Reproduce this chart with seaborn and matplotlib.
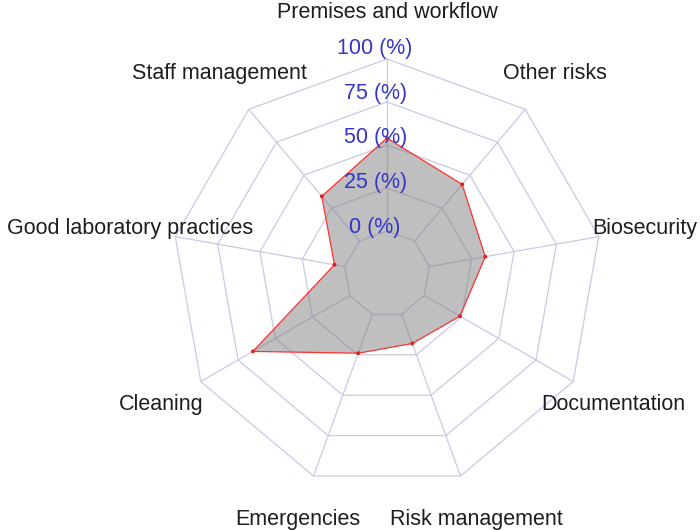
import numpy as np
import pandas as pd
import matplotlib
matplotlib.use("Agg")
import matplotlib.pyplot as plt
import seaborn as sns

# ---- data (clockwise from top) ----
categories = ["Premises and workflow", "Other risks", "Biosecurity", "Documentation",
              "Risk management", "Emergencies", "Cleaning",
              "Good laboratory practices", "Staff management"]
values = [54, 43, 33, 24, 18, 24, 65, 6, 34]
axis_ticks = [0, 25, 50, 75, 100]
axis_tick_labels = ["0 (%)", "25 (%)", "50 (%)", "75 (%)", "100 (%)"]

sns.set_theme(style="white")
plt.rcParams["font.family"] = ["Liberation Sans", "DejaVu Sans"]

W, H = 700, 530
fig = plt.figure(figsize=(W / 100, H / 100), dpi=100)
ax = fig.add_axes([0, 0, 1, 1])
cx, cy, scale = 387, 274, 215  # pixel center and pixels per unit radius
ax.set_xlim(-cx / scale, (W - cx) / scale)
ax.set_ylim(-(H - cy) / scale, cy / scale)
ax.set_aspect("equal")
ax.axis("off")

n = len(categories)
angles = np.pi / 2 - 2 * np.pi * np.arange(n) / n
seg = len(axis_ticks) - 1
vmin, vmax = axis_ticks[0], axis_ticks[-1]

def radius(v):
    return (1 + seg * (np.asarray(v, float) - vmin) / (vmax - vmin)) / (seg + 1)

grid_col = "#c9c9e6"
# rings
for t in axis_ticks:
    r = radius(t)
    xs = np.append(r * np.cos(angles), r * np.cos(angles[0]))
    ys = np.append(r * np.sin(angles), r * np.sin(angles[0]))
    ax.plot(xs, ys, color=grid_col, lw=0.9, zorder=1)
# spokes
r0, r1 = radius(vmin), radius(vmax)
for a in angles:
    ax.plot([r0 * np.cos(a), r1 * np.cos(a)], [r0 * np.sin(a), r1 * np.sin(a)],
            color=grid_col, lw=0.9, zorder=1)

# data polygon
rv = radius(values)
df = pd.DataFrame({"category": categories,
                   "x": rv * np.cos(angles),
                   "y": rv * np.sin(angles)})
ax.fill(df["x"], df["y"], facecolor=(0.5, 0.5, 0.5, 0.5), edgecolor="none", zorder=2)
xs = np.append(df["x"].values, df["x"].values[0])
ys = np.append(df["y"].values, df["y"].values[0])
ax.plot(xs, ys, color="#ff3030", lw=0.9, zorder=3)
sns.scatterplot(data=df, x="x", y="y", ax=ax, color="#e02020", s=8,
                edgecolor="none", zorder=4, legend=False)

# category labels
for a, lab in zip(angles, categories):
    ax.text(1.215 * np.cos(a), 1.215 * np.sin(a), lab, ha="center", va="center",
            fontsize=15.5, color="#1e1e1e", zorder=5)

# axis labels
for i, lab in enumerate(axis_tick_labels):
    ax.text(-0.055, radius(axis_ticks[i]) * 1.046 + 0.005, lab, ha="center", va="center",
            fontsize=15.5, color="#3535c8", zorder=5)

fig.savefig("out.png", dpi=100)
